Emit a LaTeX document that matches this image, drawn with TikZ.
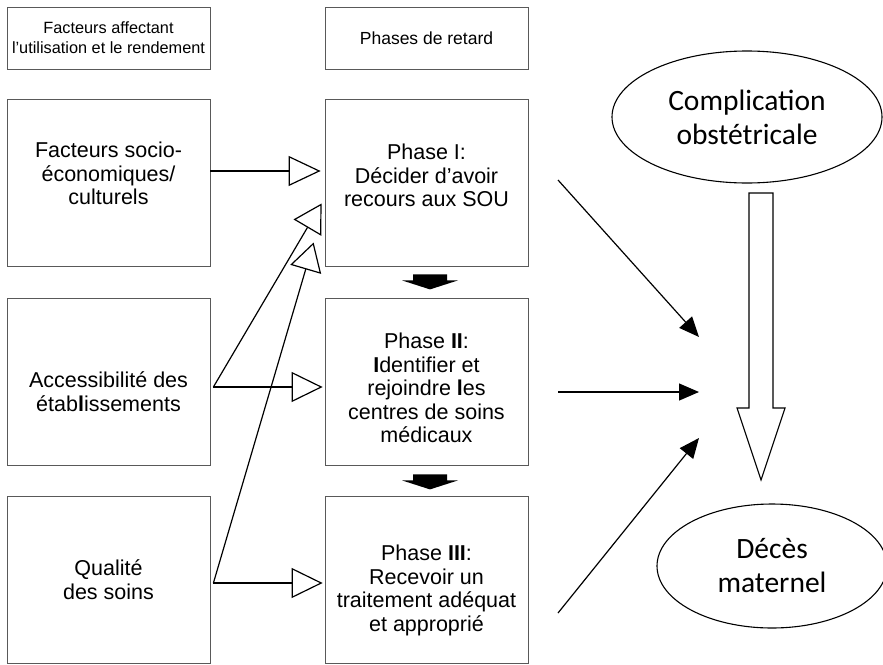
\documentclass[tikz,border=0pt]{standalone}
\usepackage{fontspec}
\setmainfont{Liberation Sans}
\newfontfamily\ovalfont{Carlito}
\usetikzlibrary{shapes.geometric, arrows.meta, positioning, calc}

\begin{document}
\begin{tikzpicture}[x=1pt, y=-1pt, thick,
    box/.style={draw=black!65, line width=0.8pt, inner sep=0pt, minimum width=203pt, minimum height=167pt, align=center, font=\fontsize{21.5}{23.5}\selectfont},
    headbox/.style={box, minimum height=62pt},
    oval/.style={draw, ellipse, line width=1.1pt, inner sep=0pt, align=center, font=\ovalfont\fontsize{29.5}{34}\selectfont},
    hollow/.style={line width=1.2pt, shorten >=2pt, -{Triangle[open, length=31pt, width=30pt]}},
    slanted/.style={line width=1.2pt, -{Triangle[open, length=28pt, width=32pt]}},
    toward/.style={line width=1.2pt, -{Triangle[length=20pt, width=17pt]}},
    downblock/.pic={\fill (-17,0) -- (17,0) -- (17,6) -- (28,6) -- (0,15) -- (-28,6) -- (-17,6) -- cycle;}]
    \useasboundingbox (0,0) rectangle (883,664);

    % Nodes
    \node[headbox, font=\fontsize{16.3}{20}\selectfont] (facteurs) at (108.5,38) {Facteurs affectant\\l’utilisation et le rendement};
    \node[headbox, font=\fontsize{17.5}{21}\selectfont] (phases) at (426.5,38) {Phases de retard};
    \node[box, text depth=18pt] (socio) at (108.5,182.5) {Facteurs socio-\\économiques/\\culturels};
    \node[box, text height=60pt] (acces) at (108.5,381.5) {Accessibilité des\\étab\textbf{l}issements};
    \node[box] (qualite) at (108.5,579.5) {Qualité\\des soins};
    \node[box, text depth=14pt] (p1) at (426.5,182.5) {Phase I:\\Décider d’avoir\\recours aux SOU};
    \node[box, text height=123pt] (p2) at (426.5,381.5) {Phase \textbf{II}:\\\textbf{I}dentifier et\\rejoindre \textbf{l}es\\centres de soins\\médicaux};
    \node[box, text height=108pt] (p3) at (426.5,579.5) {Phase \textbf{III}:\\Recevoir un\\traitement adéquat\\et approprié};
    \node[oval, minimum width=270pt, minimum height=132pt] (complication) at (747,117) {Complication\\obstétricale};
    \node[oval, minimum width=230pt, minimum height=124pt] (deces) at (772,566) {Décès\\maternel};

    \coordinate (accout) at ($(acces.east)+(3,5.5)$);
    \coordinate (qualout) at ($(qualite.east)+(3,3.5)$);
    \coordinate (tipA) at ($(p1.west)+(-3,21)$);
    \coordinate (tipB) at ($(p1.west)+(-11,60)$);
    \coordinate (from1) at (558,180);
    \coordinate (from2) at (558,392);
    \coordinate (from3) at (558,613);
    \coordinate (to1) at (699,337);
    \coordinate (to2) at (699,392);
    \coordinate (to3) at (699,438);

    % Paths
    \draw[line width=2.2pt, -{Triangle[open, length=32pt, width=30pt, line width=1.2pt]}] ([yshift=11.5pt]socio.east) -- ([yshift=11.5pt, xshift=-4pt]p1.west);
    \draw[hollow] (accout) -- (p2.west |- accout);
    \draw[slanted] (accout) -- (tipA);
    \draw[hollow] (qualout) -- (p3.west |- qualout);
    \draw[slanted] (qualout) -- (tipB);

    \pic at ($(p1.south)+(3.5,8)$) {downblock};
    \pic at ($(p2.south)+(3.5,9)$) {downblock};

    \draw[toward] (from1) -- (to1);
    \draw[toward] (from2) -- (to2);
    \draw[toward] (from3) -- (to3);

    % big hollow arrow
    \draw[line width=1.1pt] (749,193) -- (773,193) -- (773,408) -- (785,408) -- (761,480) -- (737,408) -- (749,408) -- cycle;
\end{tikzpicture}
\end{document}
